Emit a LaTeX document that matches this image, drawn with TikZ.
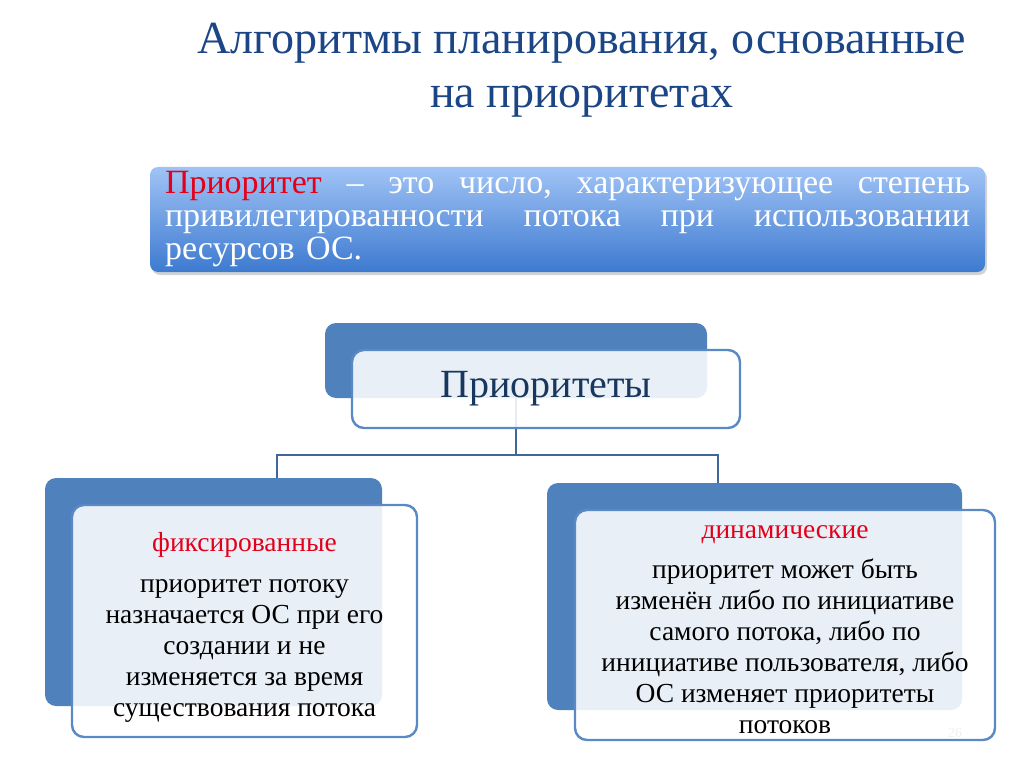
\documentclass[tikz,border=0pt]{standalone}
\usepackage{fontspec}
\setmainfont{Liberation Serif}
\usepackage{tikz}
\usetikzlibrary{positioning,shadows,calc}
\definecolor{titul}{HTML}{1B4585}
\definecolor{sinij}{HTML}{4F81BD}
\definecolor{ramka}{HTML}{5A8AC6}
\definecolor{svetlo}{HTML}{A0C3F5}
\definecolor{temno}{HTML}{3D7AD0}
\definecolor{krasn}{HTML}{E2001A}
\definecolor{chernila}{HTML}{17375E}
\definecolor{liniya}{HTML}{41669A}
\tikzset{
  podlozhka/.style={draw=none,fill=sinij,rounded corners=11pt},
  kartochka/.style={draw=ramka,line width=2.4pt,fill=white,fill opacity=0.88,text opacity=1,
    rounded corners=12pt,align=center},
  soedinenie/.style={draw=liniya,line width=2.2pt},
}
\newcommand{\shrift}[2]{\fontsize{#1}{#2}\selectfont}
\newcommand{\stroka}[1]{\makebox[805pt][l]{#1}}

\begin{document}
\begin{tikzpicture}[x=1pt,y=-1pt,
  zagolovok/.style={align=center,text=titul,font=\shrift{46}{54}},
  opred/.style={rounded corners=8pt,top color=svetlo,bottom color=temno,text=white,
    minimum width=835pt,minimum height=105pt,text width=805pt,align=left,font=\shrift{34}{33},
    drop shadow={opacity=0.35,shadow xshift=2pt,shadow yshift=-3pt}},
  vetv/.style={kartochka,font=\shrift{27.5}{31}}]
  \useasboundingbox (0,0) rectangle (1024,767);
  \node[zagolovok] (zag) at (582,70) {Алгоритмы планирования, основанные\\на приоритетах};
  \node[opred] (opr) at (567.5,219.5)
    {\stroka{\textcolor{krasn}{Приоритет}\hfill–\hfill это\hfill число,\hfill характеризующее\hfill степень}\\
     \stroka{привилегированности\hfill потока\hfill при\hfill использовании}\\
     ресурсов ОС.};
  % подложки
  \node[podlozhka,minimum width=382pt,minimum height=75pt] (pbk) at (516,360.5) {};
  \node[podlozhka,minimum width=337pt,minimum height=228pt] (fbk) at (213.5,592) {};
  \node[podlozhka,minimum width=415pt,minimum height=227pt] (dbk) at (754.5,596.5) {};
  % связи
  \coordinate (uzel) at (516,455);
  \draw[soedinenie] (pbk.south) -- (uzel);
  \draw[soedinenie] (uzel) -| ([xshift=63.5pt]fbk.north);
  \draw[soedinenie] (uzel) -| ([xshift=-36.5pt]dbk.north);
  % карточки
  \node[kartochka,minimum width=388pt,minimum height=78pt,text=chernila,font=\shrift{40}{44}] (pfr) at (546,389) {Приоритеты};
  \node[vetv,minimum width=345pt,minimum height=232pt] (ffr) at (244.5,621)
    {\rule{0pt}{31pt}\textcolor{krasn}{фиксированные}\\[10pt]
     приоритет потоку\\назначается ОС при его\\создании и не\\изменяется за время\\существования потока};
  \node[vetv,minimum width=420pt,minimum height=230pt] (dfr) at (785,625)
    {\rule{0pt}{22pt}\textcolor{krasn}{динамические}\\[9pt]
     приоритет может быть\\изменён либо по инициативе\\самого потока, либо по\\инициативе пользователя, либо\\ОС изменяет приоритеты\\потоков};
  \node[text=black!6,font=\shrift{14}{14}] (nomer) at (955,733) {26};
\end{tikzpicture}
\end{document}
